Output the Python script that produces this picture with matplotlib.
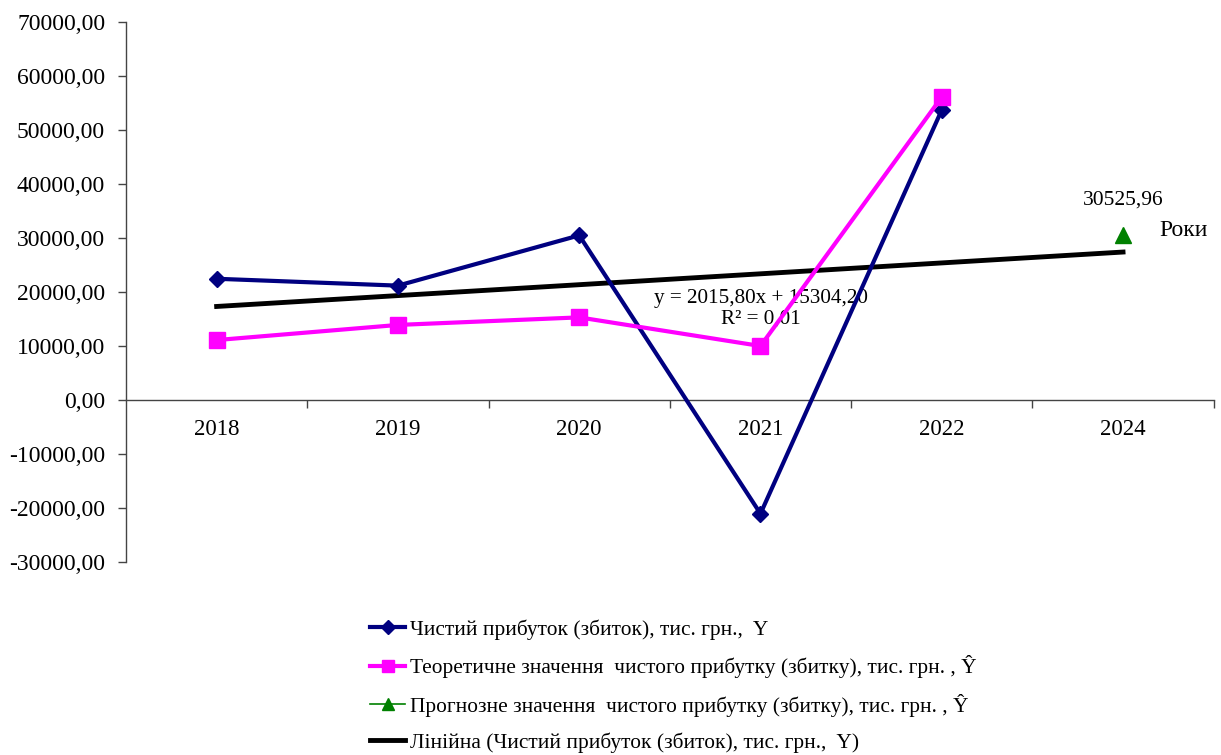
import matplotlib.pyplot as plt
from matplotlib.lines import Line2D
from matplotlib.ticker import FuncFormatter, FixedLocator

plt.rcParams['font.family'] = ['Liberation Serif', 'DejaVu Serif']

years = ['2018', '2019', '2020', '2021', '2022', '2024']
profit = [22450, 21180, 30480, -21050, 53700]
theoretical = [11100, 13900, 15300, 10000, 56100]
forecast = 30525.96
trend_slope = 2015.80
trend_intercept = 15304.20
r_squared = 0.01

labels = ['Чистий прибуток (збиток), тис. грн.,  Y',
          'Теоретичне значення  чистого прибутку (збитку), тис. грн. , Ŷ',
          'Прогнозне значення  чистого прибутку (збитку), тис. грн. , Ŷ',
          'Лінійна (Чистий прибуток (збиток), тис. грн.,  Y)']

fig = plt.figure(figsize=(12.21, 7.55), dpi=100)
ax = fig.add_axes([0.1032, 0.2556, 0.8908, 0.7153])

x = list(range(len(years)))
x_fact = x[:len(profit)]

ax.plot(x_fact, profit, color='#000080', lw=3, marker='D', ms=8, zorder=4)
ax.plot(x_fact, theoretical, color='#FF00FF', lw=3, marker='s', ms=12, zorder=5)
ax.plot([x[-1]], [forecast], color='#008000', marker='^', ms=12, linestyle='none', zorder=5)

# linear trend over positions 1..6
tx = [x[0], x[-1]]
ty = [trend_slope * (t + 1) + trend_intercept for t in tx]
ax.plot(tx, ty, color='black', lw=3.5, zorder=3)

ax.text(x[-1], forecast + 4700, f'{forecast:.2f}'.replace('.', ','), ha='center', va='bottom', fontsize=15.5)
ax.text(x[-1] + 0.2, forecast + 900, 'Роки', ha='left', va='center', fontsize=17)
eq = f'y = {trend_slope:.2f}x + {trend_intercept:.2f}'.replace('.', ',')
r2 = f'R² = {r_squared:.2f}'.replace('.', ',')
ax.text(3.0, 20600, eq + '\n' + r2, ha='center', va='top', fontsize=15.2, linespacing=1.1)

ax.set_xlim(-0.5, len(years) - 0.5)
ax.set_ylim(-30000, 70000)
ax.set_yticks(range(-30000, 70001, 10000))
ax.yaxis.set_major_formatter(FuncFormatter(lambda v, p: f'{v:.2f}'.replace('.', ',')))

ax.set_xticks(x)
ax.set_xticklabels(years)
ax.xaxis.set_minor_locator(FixedLocator([i + 0.5 for i in x]))
ax.tick_params(axis='x', which='major', length=0, pad=14, labelsize=16.5)
ax.tick_params(axis='x', which='minor', length=6, direction='out', width=1, color='#444444')
ax.tick_params(axis='y', length=6, width=1, color='#444444', labelsize=17, pad=9)

ax.spines['bottom'].set_position(('data', 0))
ax.spines['top'].set_visible(False)
ax.spines['right'].set_visible(False)
for s in ('left', 'bottom'):
    ax.spines[s].set_color('#444444')
    ax.spines[s].set_linewidth(1)

handles = [
    Line2D([], [], color='#000080', lw=3, marker='D', ms=7),
    Line2D([], [], color='#FF00FF', lw=3, marker='s', ms=9),
    Line2D([], [], color='#008000', lw=1.2, marker='^', ms=9),
    Line2D([], [], color='black', lw=3.5),
]
fig.legend(handles, labels, loc='upper left', bbox_to_anchor=(0.296, 0.191), frameon=False,
           fontsize=15.4, handlelength=1.65, handletextpad=0.2, labelspacing=0.72,
           borderaxespad=0)

fig.savefig('out.png', dpi=100)
